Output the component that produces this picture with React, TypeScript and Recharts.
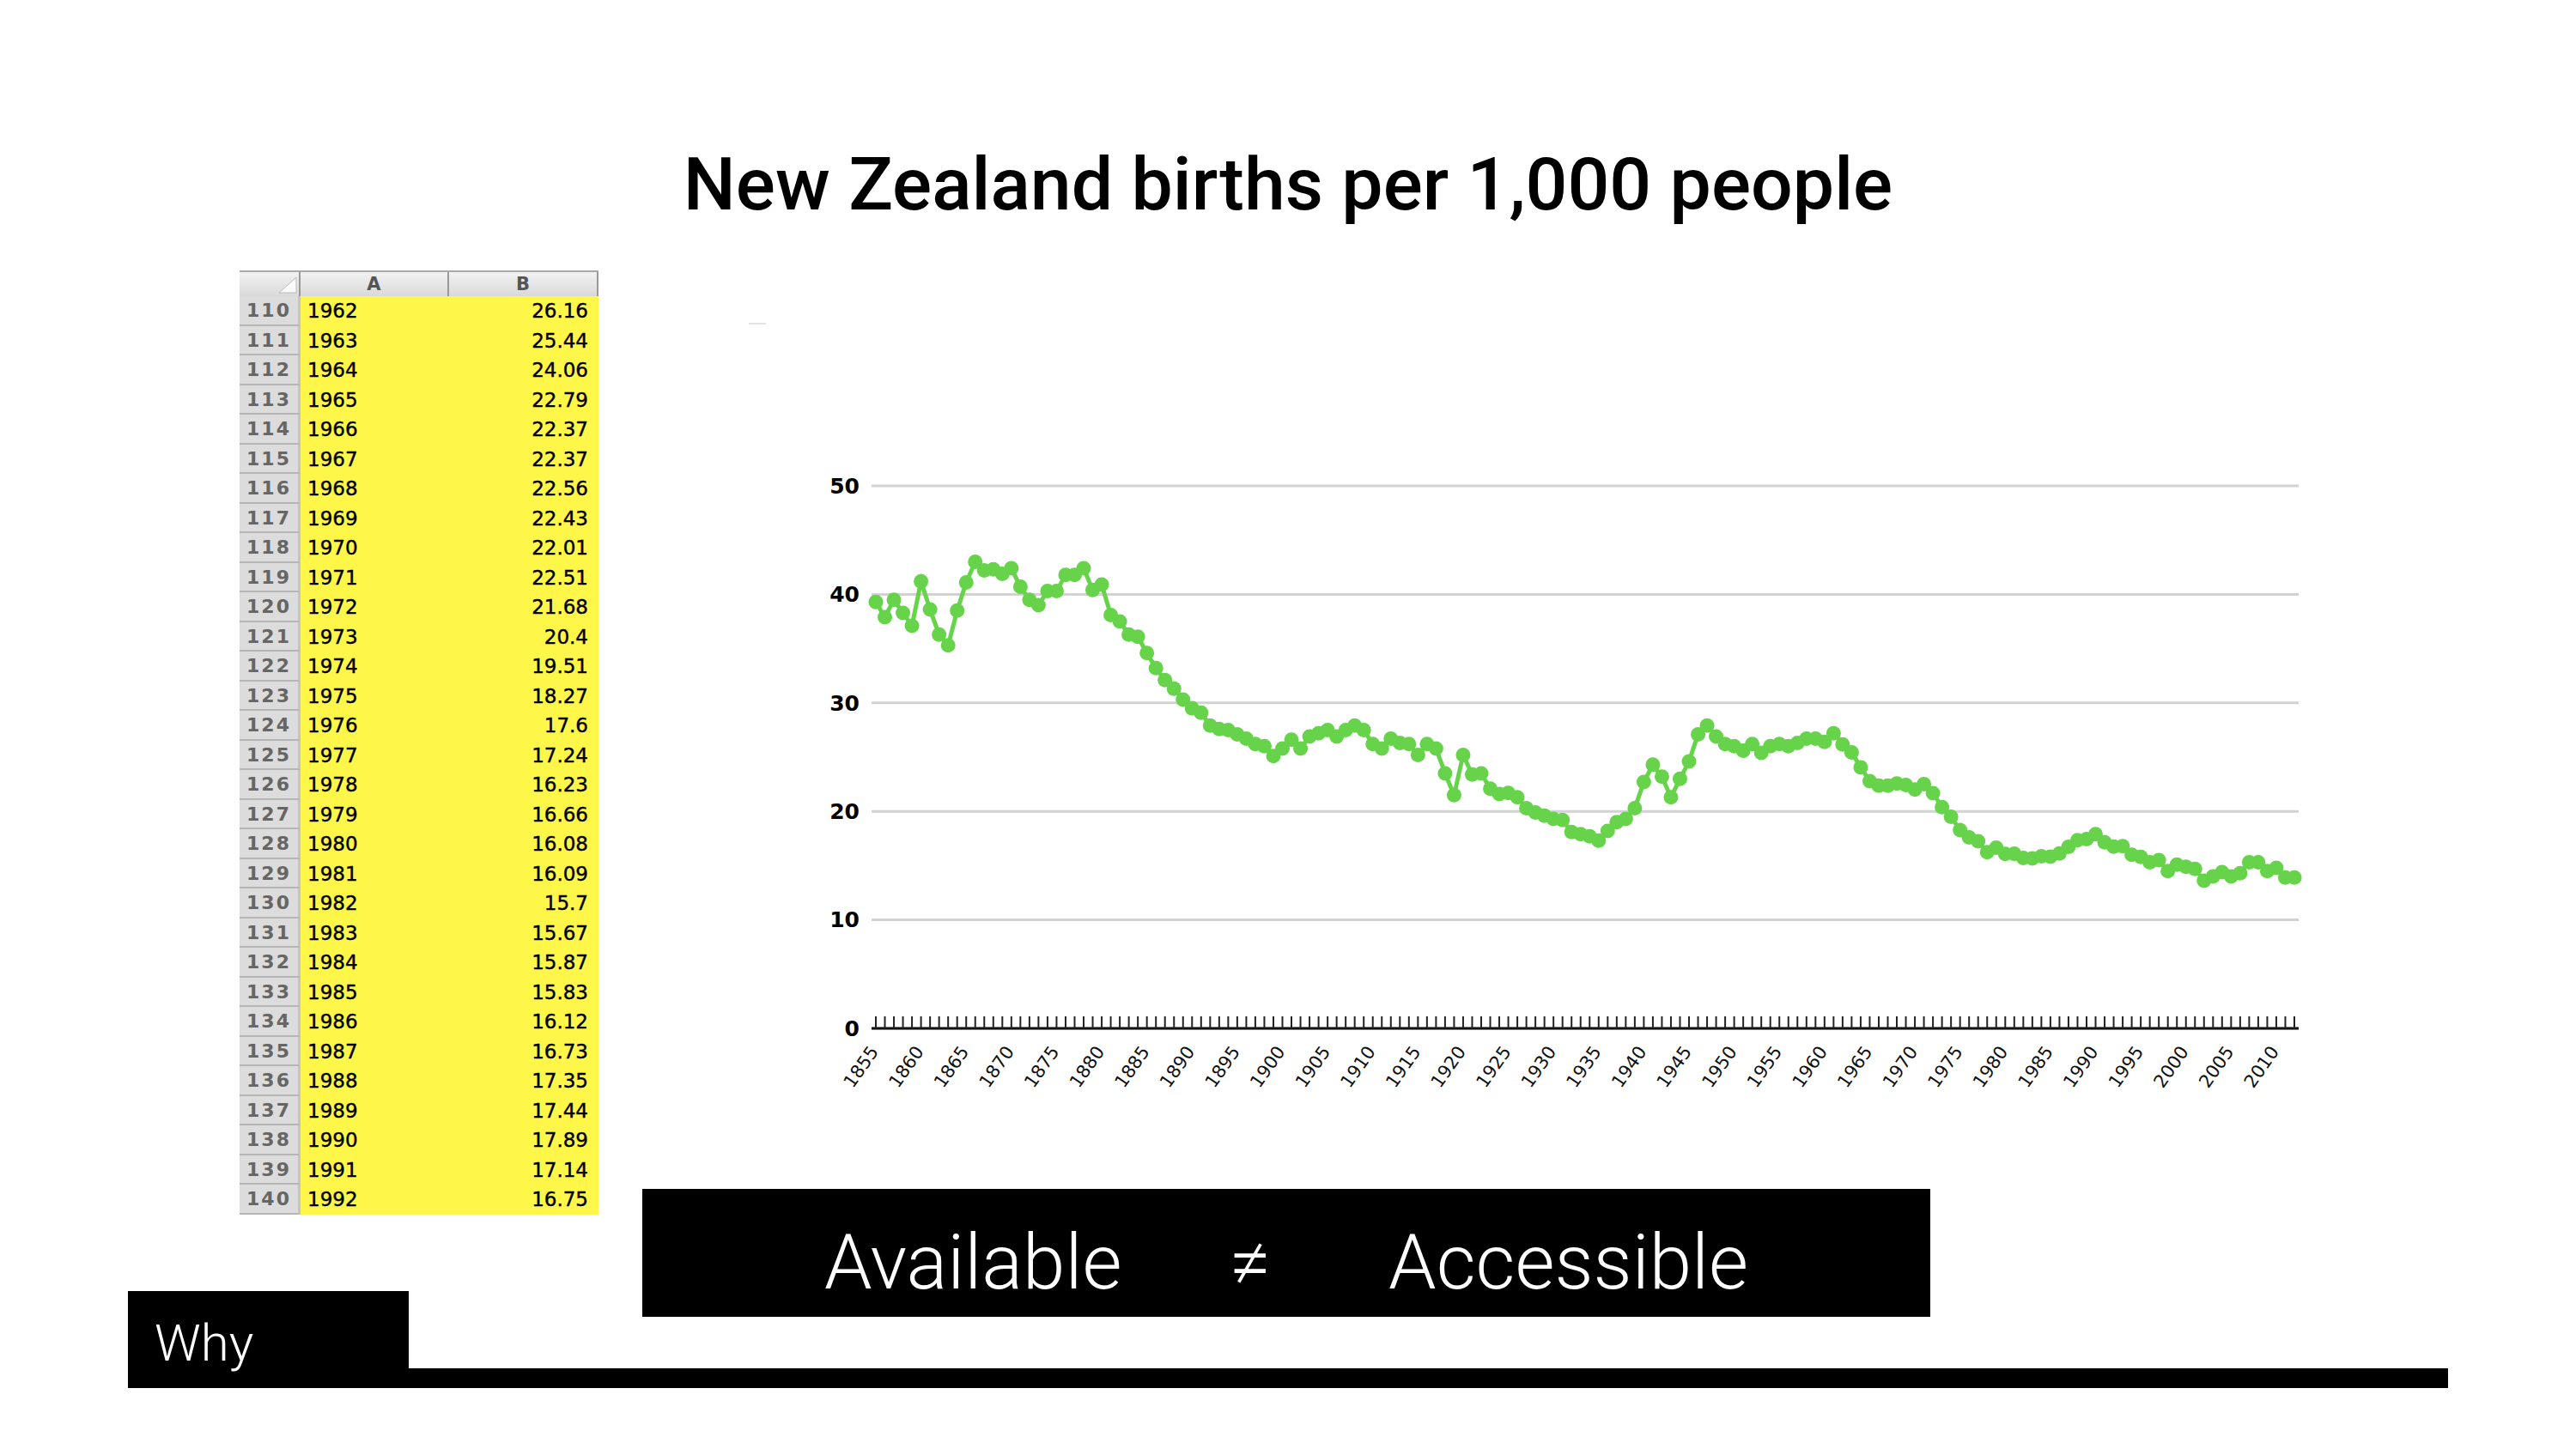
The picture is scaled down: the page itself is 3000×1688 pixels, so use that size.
import { LineChart, Line, XAxis, YAxis, CartesianGrid } from "recharts"

// New Zealand births per 1,000 people, one value per year from 1855
const firstYear = 1855
const birthRate = [
  39.3, 37.9, 39.5, 38.3, 37.1, 41.2, 38.6, 36.3, 35.3, 38.5, // 1855-1864
  41.1, 43.0, 42.2, 42.3, 41.9, 42.4, 40.7, 39.5, 39.0, 40.3, // 1865-1874
  40.3, 41.8, 41.8, 42.4, 40.4, 40.9, 38.1, 37.5, 36.3, 36.1, // 1875-1884
  34.6, 33.2, 32.1, 31.3, 30.3, 29.5, 29.1, 27.9, 27.6, 27.5, // 1885-1894
  27.1, 26.7, 26.2, 26.0, 25.1, 25.8, 26.6, 25.8, 26.9, 27.2, // 1895-1904
  27.5, 26.9, 27.5, 27.9, 27.5, 26.2, 25.8, 26.7, 26.3, 26.2, // 1905-1914
  25.2, 26.2, 25.8, 23.5, 21.5, 25.2, 23.4, 23.5, 22.1, 21.6, // 1915-1924
  21.7, 21.3, 20.3, 19.9, 19.6, 19.3, 19.2, 18.1, 17.9, 17.7, // 1925-1934
  17.3, 18.2, 19.0, 19.3, 20.3, 22.7, 24.3, 23.2, 21.3, 23.0, // 1935-1944
  24.6, 27.1, 27.9, 26.9, 26.2, 26.0, 25.6, 26.2, 25.4, 26.0, // 1945-1954
  26.2, 26.0, 26.3, 26.7, 26.7, 26.4, 27.2, 26.16, 25.44, 24.06, // 1955-1964
  22.79, 22.37, 22.37, 22.56, 22.43, 22.01, 22.51, 21.68, 20.4, 19.51, // 1965-1974
  18.27, 17.6, 17.24, 16.23, 16.66, 16.08, 16.09, 15.7, 15.67, 15.87, // 1975-1984
  15.83, 16.12, 16.73, 17.35, 17.44, 17.89, 17.14, 16.75, 16.8, 16.0, // 1985-1994
  15.8, 15.3, 15.5, 14.5, 15.1, 14.9, 14.7, 13.6, 14.0, 14.4, // 1995-2004
  14.0, 14.3, 15.3, 15.3, 14.5, 14.8, 13.9, 13.9, // 2005-2012
]
const years = birthRate.map((_, i) => firstYear + i)
const labelledYears = years.filter((y) => y % 5 === 0)
const yTicks = [0, 10, 20, 30, 40, 50]

// spreadsheet excerpt shown on the left (rows 110-140 = 1962-1992)
const firstSheetRow = 110
const sheetYears = years.filter((y) => y >= 1962 && y <= 1992)

const data = years.map((year, i) => ({ year, rate: birthRate[i] }))

const GREEN = "#66d34b"
const sheetFont = "'DejaVu Sans', Verdana, sans-serif"

function YearTick({ x, y, payload }: any) {
  const show = labelledYears.includes(payload.value)
  const tx = x + 4
  const ty = y + 27
  return (
    <g>
      <line x1={x} x2={x} y1={y} y2={y - 14} stroke="#222" strokeWidth={2} />
      {show && (
        <text
          x={tx}
          y={ty}
          textAnchor="end"
          fontSize={21}
          fontFamily="'DejaVu Sans', sans-serif"
          fill="#111"
          transform={`rotate(-55, ${tx}, ${ty})`}
        >
          {payload.value}
        </text>
      )}
    </g>
  )
}

function Sheet() {
  const rowH = 34.5
  return (
    <div style={{ position: "absolute", left: 279, top: 315, width: 418, fontFamily: sheetFont }}>
      {/* header */}
      <div style={{ display: "flex", height: 30, background: "linear-gradient(#f2f2f2, #d9d9d9)", borderTop: "2px solid #aaa", boxSizing: "border-box" }}>
        <div style={{ width: 71, position: "relative", borderRight: "2px solid #999", boxSizing: "border-box" }}>
          <svg width={71} height={28} style={{ position: "absolute", left: 0, top: 0 }}>
            <polygon points="66,6 66,24 46,24" fill="#fafafa" stroke="#bbb" strokeWidth={1} />
          </svg>
        </div>
        <div style={{ width: 173, textAlign: "center", color: "#555", fontSize: 21, fontWeight: "bold", lineHeight: "28px", borderRight: "2px solid #999", boxSizing: "border-box" }}>A</div>
        <div style={{ width: 174, textAlign: "center", color: "#555", fontSize: 21, fontWeight: "bold", lineHeight: "28px", borderRight: "2px solid #999", boxSizing: "border-box" }}>B</div>
      </div>
      {sheetYears.map((year, i) => (
        <div key={year} style={{ display: "flex", height: rowH }}>
          <div
            style={{
              width: 71,
              background: "#dcdcdc",
              borderBottom: "2px solid #b5b5b5",
              borderRight: "3px solid #c4c4c4",
              boxSizing: "border-box",
              color: "#666",
              fontWeight: "bold",
              fontSize: 22,
              letterSpacing: 2,
              textAlign: "center",
              lineHeight: `${rowH}px`,
            }}
          >
            {firstSheetRow + i}
          </div>
          <div style={{ width: 347, background: "#fff64a", display: "flex", justifyContent: "space-between", alignItems: "center", padding: "0 12px 0 8px", boxSizing: "border-box", fontSize: 23, color: "#000", WebkitTextStroke: "0.4px #000" }}>
            <span>{year}</span>
            <span>{String(birthRate[year - firstYear])}</span>
          </div>
        </div>
      ))}
    </div>
  )
}

export default function App() {
  return (
    <div style={{ position: "absolute", left: 0, top: 0, width: 3000, height: 1688, background: "#fff", overflow: "hidden" }}>
      <div
        style={{
          position: "absolute",
          left: 0,
          width: 3000,
          top: 160,
          textAlign: "center",
          fontFamily: "Roboto, 'Liberation Sans', sans-serif",
          fontWeight: 500,
          fontSize: 86,
          color: "#000",
          lineHeight: "110px",
        }}
      >
        New Zealand births per 1,000 people
      </div>

      <Sheet />

      <div style={{ position: "absolute", left: 872, top: 376, width: 20, height: 2, background: "#e4e4e4" }} />

      <div style={{ position: "absolute", left: 900, top: 500 }}>
        <LineChart width={1797} height={798} data={data} margin={{ top: 66, right: 20, bottom: 0, left: 55 }}>
          <CartesianGrid vertical={false} stroke="#d2d2d2" strokeWidth={3} />
          <XAxis
            dataKey="year"
            scale="point"
            padding={{ left: 5, right: 5 }}
            interval={0}
            height={100}
            tickSize={0}
            tickMargin={0}
            tickLine={false}
            axisLine={{ stroke: "#111", strokeWidth: 3 }}
            tick={<YearTick />}
          />
          <YAxis
            domain={[0, 50]}
            ticks={yTicks}
            width={60}
            axisLine={false}
            tickLine={false}
            tickSize={0}
            tickMargin={14}
            tick={{ fill: "#000", fontSize: 25, fontWeight: "bold", fontFamily: "'DejaVu Sans', sans-serif" }}
          />
          <Line
            type="linear"
            dataKey="rate"
            stroke={GREEN}
            strokeWidth={5}
            dot={{ r: 8.5, fill: GREEN, stroke: "none" }}
            isAnimationActive={false}
          />
        </LineChart>
      </div>

      {/* caption box */}
      <div style={{ position: "absolute", left: 748, top: 1385, width: 1500, height: 149, background: "#000", color: "#fff", fontFamily: "Roboto, 'Liberation Sans', sans-serif", fontWeight: 300, fontSize: 89 }}>
        <span style={{ position: "absolute", left: 212, top: 26, lineHeight: "120px" }}>Available</span>
        <span style={{ position: "absolute", left: 683, top: 26, lineHeight: "120px" }}>≠</span>
        <span style={{ position: "absolute", left: 869, top: 26, lineHeight: "120px" }}>Accessible</span>
      </div>

      {/* footer */}
      <div style={{ position: "absolute", left: 149, top: 1504, width: 327, height: 113, background: "#000" }} />
      <div style={{ position: "absolute", left: 149, top: 1594, width: 2702, height: 23, background: "#000" }} />
      <div style={{ position: "absolute", left: 180, top: 1520, color: "#fff", fontFamily: "Roboto, 'Liberation Sans', sans-serif", fontWeight: 300, fontSize: 60, lineHeight: "90px" }}>
        Why
      </div>
    </div>
  )
}
